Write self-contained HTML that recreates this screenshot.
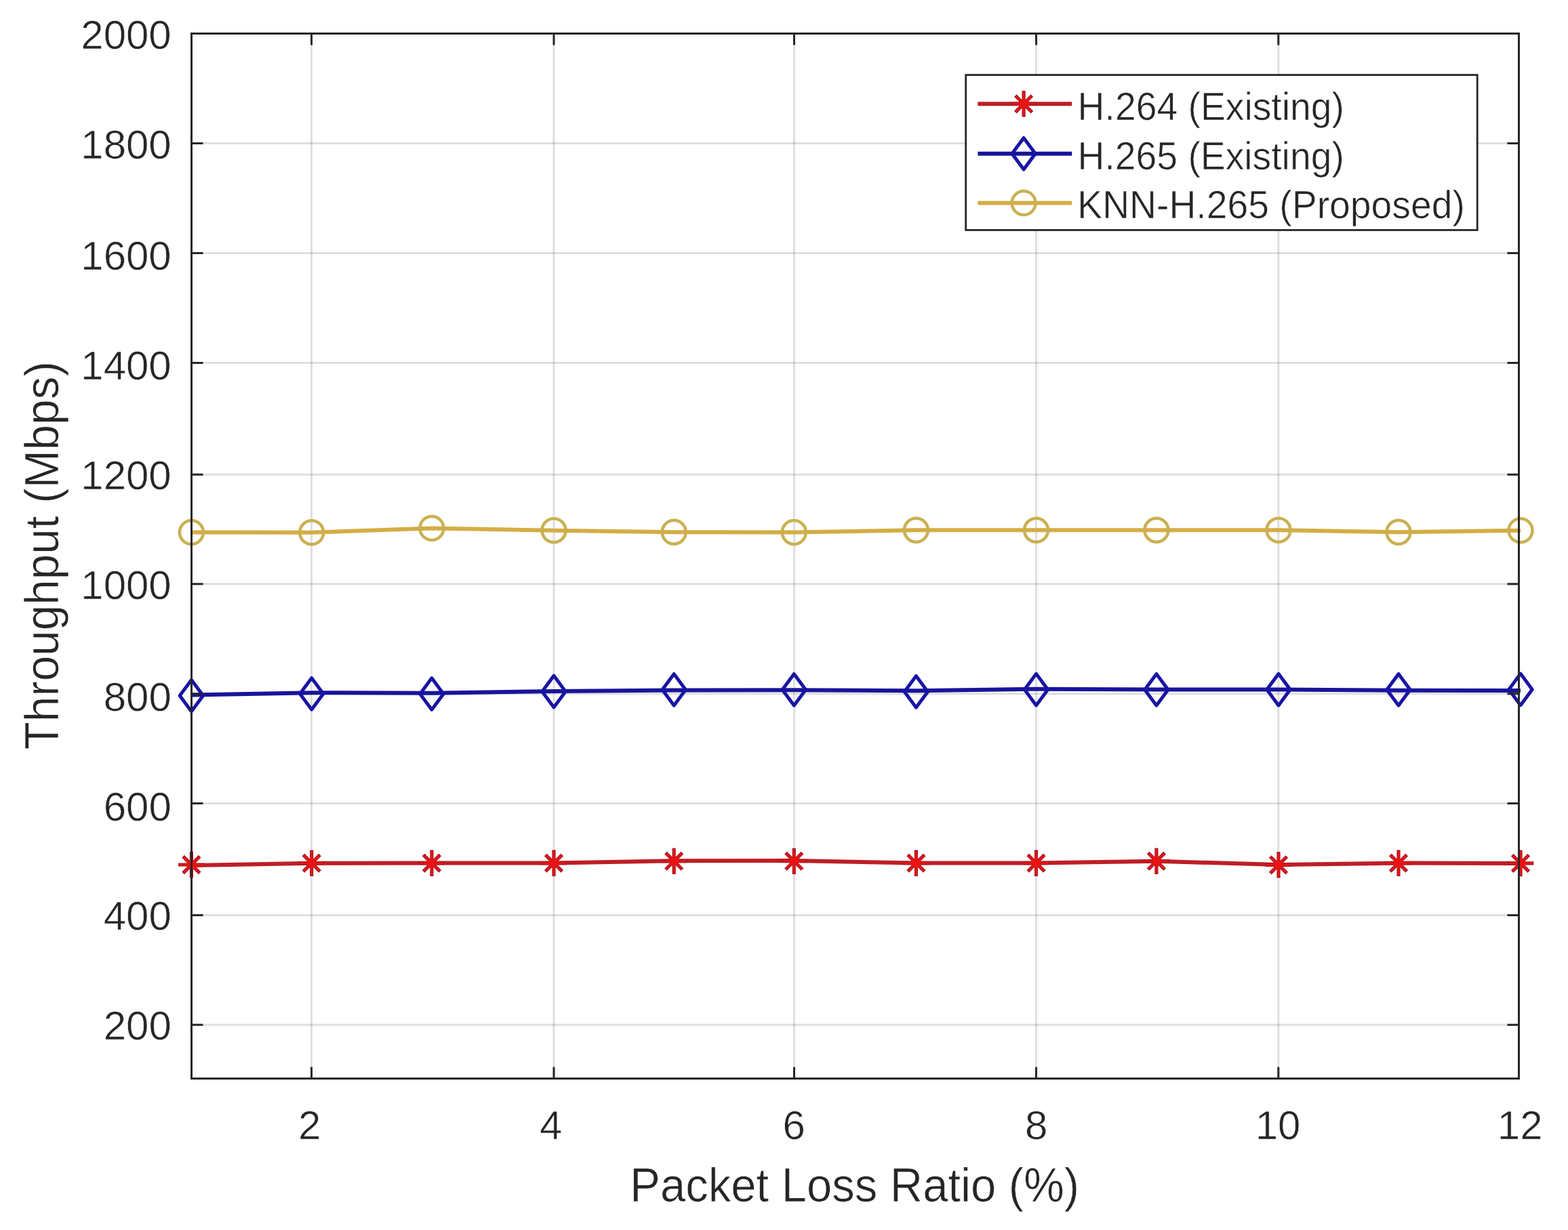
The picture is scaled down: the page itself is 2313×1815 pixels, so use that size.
<!DOCTYPE html>
<html><head><meta charset="utf-8"><title>Throughput vs Packet Loss Ratio</title>
<style>
html,body{margin:0;padding:0;background:#ffffff;}
body{width:2313px;height:1815px;overflow:hidden;}
svg{display:block;}
text{font-kerning:none;stroke:#ffffff;stroke-width:0.6px;paint-order:fill;}
</style></head>
<body>
<svg xmlns="http://www.w3.org/2000/svg" width="2313" height="1815" viewBox="0 0 2313 1815">
<rect x="0" y="0" width="2313" height="1815" fill="#ffffff"/>
<path d="M282.5 211.5H2240.5M282.5 373.4H2240.5M282.5 535.5H2240.5M282.5 700.2H2240.5M282.5 861.8H2240.5M282.5 1023.7H2240.5M282.5 1185.5H2240.5M282.5 1350.5H2240.5M282.5 1512.3H2240.5" stroke="#262626" stroke-opacity="0.15" stroke-width="3" fill="none"/>
<path d="M459.5 49.5V1591.5M817.0 49.5V1591.5M1171.5 49.5V1591.5M1528.5 49.5V1591.5M1885.8 49.5V1591.5" stroke="#262626" stroke-opacity="0.15" stroke-width="3" fill="none"/>
<polyline points="282.4,1277.0 459.7,1273.7 636.9,1273.6 817.0,1273.6 994.2,1270.2 1171.3,1270.0 1351.4,1273.6 1528.5,1273.6 1705.9,1270.7 1886.0,1276.0 2063.0,1273.6 2243.0,1274.1" stroke="#be1e26" stroke-width="6" fill="none" stroke-linejoin="round"/>
<g stroke="#a81c26" stroke-width="5.2" fill="none"><path d="M282.4 1256.7V1295.3M263.1 1276.0H301.7M270.1 1263.7L294.7 1288.3M270.1 1288.3L294.7 1263.7"/><path d="M459.7 1254.4V1293.0M440.4 1273.7H479.0M447.4 1261.4L472.0 1286.0M447.4 1286.0L472.0 1261.4"/><path d="M636.9 1254.3V1292.9M617.6 1273.6H656.2M624.6 1261.3L649.2 1285.9M624.6 1285.9L649.2 1261.3"/><path d="M817.0 1254.3V1292.9M797.7 1273.6H836.3M804.7 1261.3L829.3 1285.9M804.7 1285.9L829.3 1261.3"/><path d="M994.2 1251.4V1290.0M974.9 1270.7H1013.5M981.9 1258.4L1006.5 1283.0M981.9 1283.0L1006.5 1258.4"/><path d="M1171.3 1251.4V1290.0M1152.0 1270.7H1190.6M1159.0 1258.4L1183.6 1283.0M1159.0 1283.0L1183.6 1258.4"/><path d="M1351.4 1254.3V1292.9M1332.1 1273.6H1370.7M1339.1 1261.3L1363.7 1285.9M1339.1 1285.9L1363.7 1261.3"/><path d="M1528.5 1254.3V1292.9M1509.2 1273.6H1547.8M1516.2 1261.3L1540.8 1285.9M1516.2 1285.9L1540.8 1261.3"/><path d="M1705.9 1251.4V1290.0M1686.6 1270.7H1725.2M1693.6 1258.4L1718.2 1283.0M1693.6 1283.0L1718.2 1258.4"/><path d="M1886.0 1257.0V1295.6M1866.7 1276.3H1905.3M1873.7 1264.0L1898.3 1288.6M1873.7 1288.6L1898.3 1264.0"/><path d="M2063.0 1254.3V1292.9M2043.7 1273.6H2082.3M2050.7 1261.3L2075.3 1285.9M2050.7 1285.9L2075.3 1261.3"/><path d="M2243.0 1254.6V1293.2M2223.7 1273.9H2262.3M2230.7 1261.6L2255.3 1286.2M2230.7 1286.2L2255.3 1261.6"/></g>
<g stroke="#ec1212" stroke-width="2.6" fill="none"><path d="M282.4 1258.2V1293.8M264.6 1276.0H300.2M271.2 1264.8L293.6 1287.2M271.2 1287.2L293.6 1264.8"/><path d="M459.7 1255.9V1291.5M441.9 1273.7H477.5M448.5 1262.5L470.9 1284.9M448.5 1284.9L470.9 1262.5"/><path d="M636.9 1255.8V1291.4M619.1 1273.6H654.7M625.7 1262.4L648.1 1284.8M625.7 1284.8L648.1 1262.4"/><path d="M817.0 1255.8V1291.4M799.2 1273.6H834.8M805.8 1262.4L828.2 1284.8M805.8 1284.8L828.2 1262.4"/><path d="M994.2 1252.9V1288.5M976.4 1270.7H1012.0M983.0 1259.5L1005.4 1281.9M983.0 1281.9L1005.4 1259.5"/><path d="M1171.3 1252.9V1288.5M1153.5 1270.7H1189.1M1160.1 1259.5L1182.5 1281.9M1160.1 1281.9L1182.5 1259.5"/><path d="M1351.4 1255.8V1291.4M1333.6 1273.6H1369.2M1340.2 1262.4L1362.6 1284.8M1340.2 1284.8L1362.6 1262.4"/><path d="M1528.5 1255.8V1291.4M1510.7 1273.6H1546.3M1517.3 1262.4L1539.7 1284.8M1517.3 1284.8L1539.7 1262.4"/><path d="M1705.9 1252.9V1288.5M1688.1 1270.7H1723.7M1694.7 1259.5L1717.1 1281.9M1694.7 1281.9L1717.1 1259.5"/><path d="M1886.0 1258.5V1294.1M1868.2 1276.3H1903.8M1874.8 1265.1L1897.2 1287.5M1874.8 1287.5L1897.2 1265.1"/><path d="M2063.0 1255.8V1291.4M2045.2 1273.6H2080.8M2051.8 1262.4L2074.2 1284.8M2051.8 1284.8L2074.2 1262.4"/><path d="M2243.0 1256.1V1291.7M2225.2 1273.9H2260.8M2231.8 1262.7L2254.2 1285.1M2231.8 1285.1L2254.2 1262.7"/></g>
<g fill="#ec1212"><circle cx="282.4" cy="1276.0" r="6.5"/><circle cx="459.7" cy="1273.7" r="6.5"/><circle cx="636.9" cy="1273.6" r="6.5"/><circle cx="817.0" cy="1273.6" r="6.5"/><circle cx="994.2" cy="1270.7" r="6.5"/><circle cx="1171.3" cy="1270.7" r="6.5"/><circle cx="1351.4" cy="1273.6" r="6.5"/><circle cx="1528.5" cy="1273.6" r="6.5"/><circle cx="1705.9" cy="1270.7" r="6.5"/><circle cx="1886.0" cy="1276.3" r="6.5"/><circle cx="2063.0" cy="1273.6" r="6.5"/><circle cx="2243.0" cy="1273.9" r="6.5"/></g>
<polyline points="282.4,1025.5 459.7,1022.2 636.9,1022.8 817.0,1019.9 994.2,1018.6 1171.3,1018.2 1351.4,1019.2 1528.5,1016.8 1705.9,1017.4 1886.0,1017.5 2063.0,1018.8 2243.0,1018.9" stroke="#18149c" stroke-width="6" fill="none" stroke-linejoin="round"/>
<g stroke="#1814a4" stroke-width="5" fill="none" stroke-linejoin="round"><path d="M282.4 1003.2L299.6 1026.5L282.4 1049.8L265.2 1026.5Z"/><path d="M459.7 1000.4L476.9 1023.7L459.7 1047.0L442.5 1023.7Z"/><path d="M636.9 1000.6L654.1 1023.9L636.9 1047.2L619.7 1023.9Z"/><path d="M817.0 997.1L834.2 1020.4L817.0 1043.7L799.8 1020.4Z"/><path d="M994.2 994.5L1011.4 1017.8L994.2 1041.1L977.0 1017.8Z"/><path d="M1171.3 994.5L1188.5 1017.8L1171.3 1041.1L1154.1 1017.8Z"/><path d="M1351.4 997.4L1368.6 1020.7L1351.4 1044.0L1334.2 1020.7Z"/><path d="M1528.5 994.3L1545.7 1017.6L1528.5 1040.9L1511.3 1017.6Z"/><path d="M1705.9 994.5L1723.1 1017.8L1705.9 1041.1L1688.7 1017.8Z"/><path d="M1886.0 994.3L1903.2 1017.6L1886.0 1040.9L1868.8 1017.6Z"/><path d="M2063.0 994.5L2080.2 1017.8L2063.0 1041.1L2045.8 1017.8Z"/><path d="M2243.0 994.1L2260.2 1017.4L2243.0 1040.7L2225.8 1017.4Z"/></g>
<polyline points="282.4,785.5 459.7,785.8 636.9,779.4 817.0,782.8 994.2,785.3 1171.3,785.5 1351.4,782.3 1528.5,782.3 1705.9,782.3 1886.0,782.3 2063.0,785.3 2243.0,782.8" stroke="#d4ad44" stroke-width="6" fill="none" stroke-linejoin="round"/>
<g stroke="#cab052" stroke-width="4.5" fill="none"><circle cx="282.4" cy="785.5" r="17.5"/><circle cx="459.7" cy="785.8" r="17.5"/><circle cx="636.9" cy="779.4" r="17.5"/><circle cx="817.0" cy="782.8" r="17.5"/><circle cx="994.2" cy="785.3" r="17.5"/><circle cx="1171.3" cy="785.5" r="17.5"/><circle cx="1351.4" cy="782.3" r="17.5"/><circle cx="1528.5" cy="782.3" r="17.5"/><circle cx="1705.9" cy="782.3" r="17.5"/><circle cx="1886.0" cy="782.3" r="17.5"/><circle cx="2063.0" cy="785.3" r="17.5"/><circle cx="2243.0" cy="782.8" r="17.5"/></g>
<path d="M282.5 49.5H2240.5V1591.5H282.5ZM282.5 211.5h17M2240.5 211.5h-17M282.5 373.4h17M2240.5 373.4h-17M282.5 535.5h17M2240.5 535.5h-17M282.5 700.2h17M2240.5 700.2h-17M282.5 861.8h17M2240.5 861.8h-17M282.5 1023.7h17M2240.5 1023.7h-17M282.5 1185.5h17M2240.5 1185.5h-17M282.5 1350.5h17M2240.5 1350.5h-17M282.5 1512.3h17M2240.5 1512.3h-17M459.5 1591.5v-17M459.5 49.5v17M817.0 1591.5v-17M817.0 49.5v17M1171.5 1591.5v-17M1171.5 49.5v17M1528.5 1591.5v-17M1528.5 49.5v17M1885.8 1591.5v-17M1885.8 49.5v17" stroke="#262626" stroke-width="3" fill="none" stroke-linecap="butt" stroke-linejoin="miter"/>
<g font-family="'Liberation Sans', Arial, Helvetica, sans-serif" font-size="60" fill="#262626"><text x="252.75" y="71.9" text-anchor="end">2000</text><text x="252.75" y="233.7" text-anchor="end">1800</text><text x="252.75" y="398.1" text-anchor="end">1600</text><text x="252.75" y="559.8" text-anchor="end">1400</text><text x="252.75" y="721.9" text-anchor="end">1200</text><text x="252.75" y="884.1" text-anchor="end">1000</text><text x="252.75" y="1048.7" text-anchor="end">800</text><text x="252.75" y="1210.5" text-anchor="end">600</text><text x="252.75" y="1371.9" text-anchor="end">400</text><text x="252.75" y="1534.1" text-anchor="end">200</text><text x="439.97" y="1681.3">2</text><text x="796.01" y="1681.3">4</text><text x="1154.51" y="1681.3">6</text><text x="1511.92" y="1681.3">8</text><text x="1851.72" y="1681.3">10</text><text x="2208.85" y="1681.3">12</text></g>
<text transform="translate(929.3 1772.8) scale(1 1.045)" font-family="'Liberation Sans', Arial, Helvetica, sans-serif" font-size="67" fill="#262626">Packet Loss Ratio (%)</text>
<text transform="translate(85.7 1106.2) rotate(-90) scale(1 1.045)" font-family="'Liberation Sans', Arial, Helvetica, sans-serif" font-size="67.4" fill="#262626">Throughput (Mbps)</text>
<rect x="1424.7" y="110.6" width="754.5" height="228.9" fill="#ffffff" stroke="#262626" stroke-width="2.8"/>
<path d="M1442.4 153.3H1581.2" stroke="#be1e26" stroke-width="6"/>
<g stroke="#a81c26" stroke-width="5.2" fill="none"><path d="M1510.1 134.0V172.6M1490.8 153.3H1529.4M1497.8 141.0L1522.4 165.6M1497.8 165.6L1522.4 141.0"/></g><g stroke="#ec1212" stroke-width="2.6" fill="none"><path d="M1510.1 135.5V171.1M1492.3 153.3H1527.9M1498.9 142.1L1521.3 164.5M1498.9 164.5L1521.3 142.1"/></g><g fill="#ec1212"><circle cx="1510.1" cy="153.3" r="6.5"/></g>
<text transform="translate(1589.6 176.5) scale(1 1.045)" font-family="'Liberation Sans', Arial, Helvetica, sans-serif" font-size="55.3" fill="#262626">H.264 (Existing)</text>
<path d="M1442.4 226.8H1581.2" stroke="#18149c" stroke-width="6"/>
<g stroke="#1814a4" stroke-width="5" fill="none" stroke-linejoin="round"><path d="M1510.1 203.5L1527.3 226.8L1510.1 250.1L1492.9 226.8Z"/></g>
<text transform="translate(1589.5 249.7) scale(1 1.045)" font-family="'Liberation Sans', Arial, Helvetica, sans-serif" font-size="55.3" fill="#262626">H.265 (Existing)</text>
<path d="M1442.4 299.6H1581.2" stroke="#d4ad44" stroke-width="6"/>
<g stroke="#cab052" stroke-width="4.5" fill="none"><circle cx="1510.1" cy="299.6" r="17.5"/></g>
<text transform="translate(1589.3 322.4) scale(1 1.045)" font-family="'Liberation Sans', Arial, Helvetica, sans-serif" font-size="55.3" fill="#262626">KNN-H.265 (Proposed)</text>
</svg>
</body></html>
